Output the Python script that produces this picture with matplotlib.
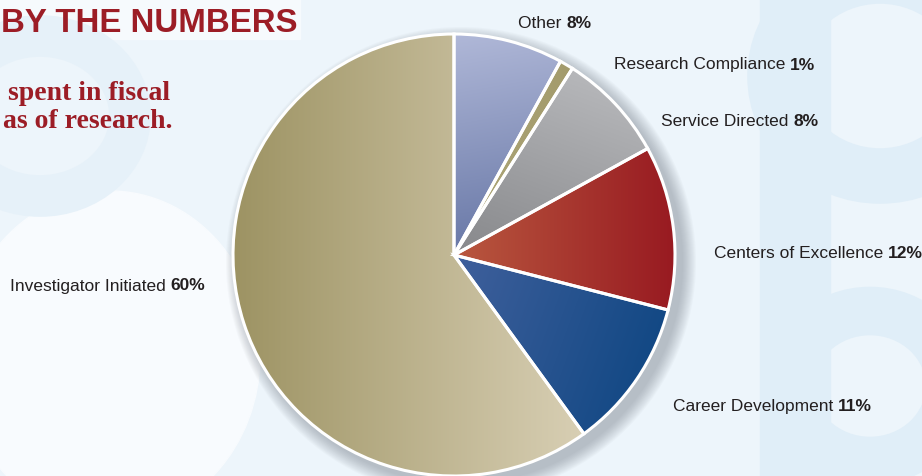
import numpy as np
import matplotlib.pyplot as plt
from matplotlib.patches import Circle, Ellipse, Rectangle
from matplotlib.colors import to_rgb

# data
labels = ['Other', 'Research Compliance', 'Service Directed',
          'Centers of Excellence', 'Career Development', 'Investigator Initiated']
shares = [8, 1, 8, 12, 11, 60]

# gradient colours (start, end, direction in degrees)
grads = [('#b0b8d8', '#6373a3', -80),
         ('#ada678', '#a39b6c', 0),
         ('#bcbdc0', '#87888b', -110),
         ('#b9583f', '#981a21', 0),
         ('#40609c', '#0a4480', -20),
         ('#9d9363', '#d8cfb4', 0)]

# label anchors in pixels (left x, middle y from top)
label_pos = [(518, 24), (614, 65), (661, 121), (714, 253), (673, 407), (10, 286)]

W, H = 922, 477
cx, cy, R = 454, H - 256, 221

plt.rcParams['font.family'] = ['Liberation Sans', 'DejaVu Sans']

fig = plt.figure(figsize=(W / 100, H / 100), dpi=100)
ax = fig.add_axes([0, 0, 1, 1])
ax.set_xlim(0, W)
ax.set_ylim(0, H)
ax.axis('off')

# background with faint shapes
ax.add_patch(Rectangle((0, 0), W, H, color='#edf5fb', zorder=0))
ax.add_patch(Ellipse((110, 120), 300, 330, color='#f8fbfe', zorder=0.1))
ax.add_patch(Rectangle((0, H - 40), 300, 40, color='#f6fafd', zorder=0.1))
ax.add_patch(Rectangle((760, 0), 70, H, color='#e0eef8', zorder=0.1))
ax.add_patch(Ellipse((880, 400), 210, 200, fill=False, lw=40, ec='#e0eef8', zorder=0.1))
ax.add_patch(Ellipse((870, 90), 160, 150, fill=False, lw=35, ec='#e0eef8', zorder=0.1))
ax.add_patch(Ellipse((40, 360), 180, 160, fill=False, lw=30, ec='#e6f1f9', zorder=0.1))

# soft shadow
for i in range(14):
    ax.add_patch(Circle((cx + 7, cy - 7), R + 14 - i, color='#6d7580',
                        alpha=0.035, lw=0, zorder=1))

wedges, _ = ax.pie(shares, startangle=90, counterclock=False, center=(cx, cy),
                   radius=R, wedgeprops=dict(edgecolor='white', linewidth=2.2))
ax.set_xlim(0, W)
ax.set_ylim(0, H)
ax.set_aspect('auto')

# gradient fills clipped to each wedge
for w, (c1, c2, ang) in zip(wedges, grads):
    w.set_facecolor('none')
    w.set_zorder(3)
    ext = w.get_path().get_extents()
    x0, y0, x1, y1 = ext.x0, ext.y0, ext.x1, ext.y1
    xs = np.linspace(x0, x1, 200)
    ys = np.linspace(y0, y1, 200)
    X, Y = np.meshgrid(xs, ys)
    d = np.array([np.cos(np.radians(ang)), np.sin(np.radians(ang))])
    t = X * d[0] + Y * d[1]
    t = (t - t.min()) / max(t.max() - t.min(), 1e-9)
    a, b = np.array(to_rgb(c1)), np.array(to_rgb(c2))
    img = a[None, None, :] * (1 - t[..., None]) + b[None, None, :] * t[..., None]
    im = ax.imshow(img, extent=[x0, x1, y0, y1], origin='lower',
                   interpolation='bilinear', zorder=2, aspect='auto')
    im.set_clip_path(w)
ax.set_xlim(0, W)
ax.set_ylim(0, H)

# labels: name in regular, share in bold
for name, pct, (lx, ly) in zip(labels, shares, label_pos):
    t1 = ax.text(lx, H - ly, name + ' ', fontsize=12.5, color='#231f20',
                 ha='left', va='center', zorder=5)
    ax.annotate(f'{pct}%', xy=(1, 0), xycoords=t1, fontsize=12.5,
                fontweight='bold', color='#231f20', ha='left', va='bottom', zorder=5)

# heading
red = '#9c1d26'
ax.text(1, H - 32, 'BY THE NUMBERS', fontsize=23.8, fontweight='bold',
        color=red, ha='left', va='baseline', zorder=5)
ax.text(170, H - 100, 'spent in fiscal', fontsize=20, fontweight='bold',
        family=['Liberation Serif', 'DejaVu Serif'], color=red,
        ha='right', va='baseline', zorder=5)
ax.text(172, H - 128, 'as of research.', fontsize=20, fontweight='bold',
        family=['Liberation Serif', 'DejaVu Serif'], color=red,
        ha='right', va='baseline', zorder=5)

fig.savefig('out.png', dpi=100)
